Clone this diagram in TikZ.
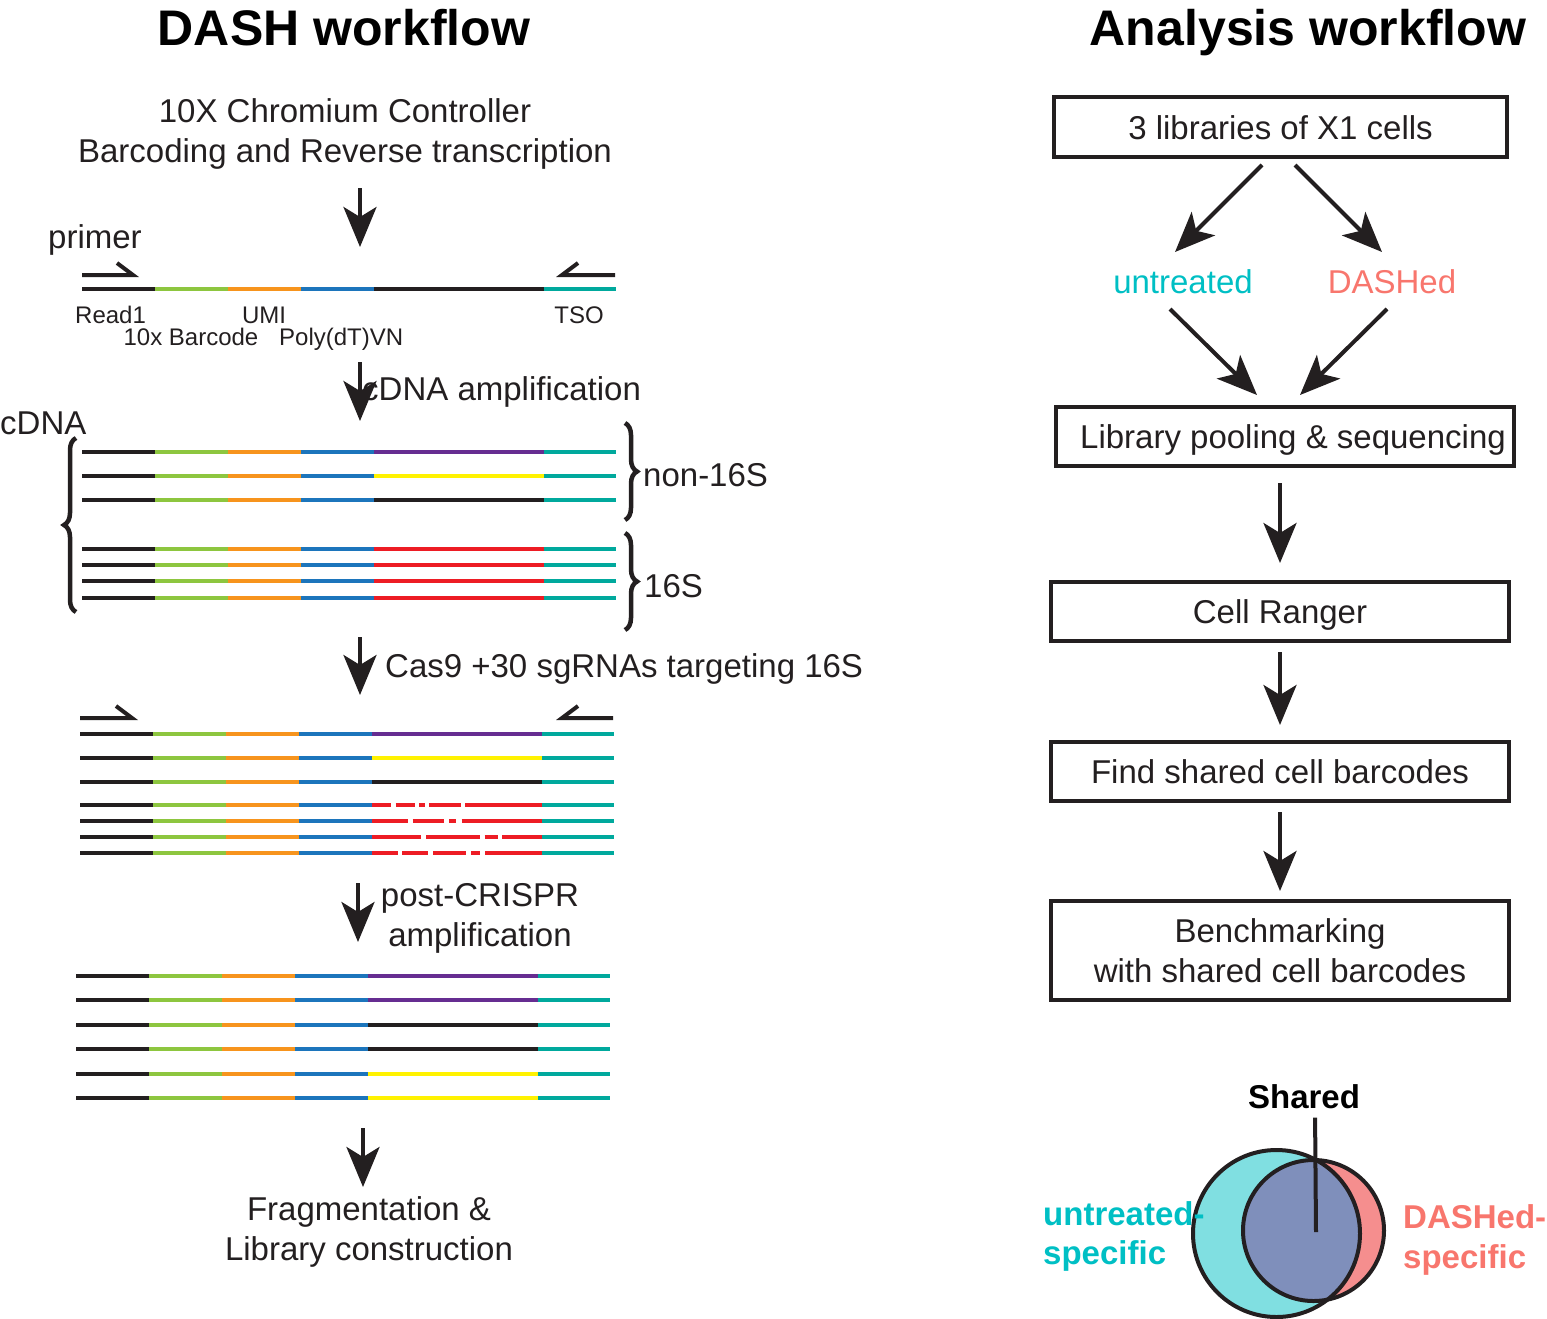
\documentclass[tikz,border=0pt]{standalone}
\usepackage{fontspec}
\setmainfont{Liberation Sans}
\usetikzlibrary{arrows.meta,decorations.pathreplacing}
\definecolor{sk}{HTML}{231F20}
\definecolor{sgreen}{HTML}{8DC63F}
\definecolor{sorange}{HTML}{F7941D}
\definecolor{sblue}{HTML}{1C75BC}
\definecolor{spurple}{HTML}{662D91}
\definecolor{syellow}{HTML}{FFF200}
\definecolor{sred}{HTML}{ED1C24}
\definecolor{steal}{HTML}{00A99D}
\definecolor{untr}{HTML}{00BFC4}
\definecolor{salm}{HTML}{F8766D}
\definecolor{venT}{HTML}{80DFE1}
\definecolor{venS}{HTML}{F58E8E}
\definecolor{venO}{HTML}{7F8FBB}
\newcommand\strandbase[2]{%
  \draw[seg,sk] (#1,#2) -- (#1+73,#2);
  \draw[seg,sgreen] (#1+73,#2) -- (#1+146,#2);
  \draw[seg,sorange] (#1+146,#2) -- (#1+219,#2);
  \draw[seg,sblue] (#1+219,#2) -- (#1+292,#2);
  \draw[seg,steal] (#1+462,#2) -- (#1+534,#2);}
\newcommand\strandfull[3]{%
  \strandbase{#1}{#2}
  \draw[seg,#3] (#1+292,#2) -- (#1+462,#2);}
\newcommand\strandcut[3]{%
  \strandbase{#1}{#2}
  \foreach \a/\b in {#3} {\draw[seg,sred] (#1+292+\a,#2) -- (#1+292+\b,#2);}}
\begin{document}
\begin{tikzpicture}[x=1pt,y=-1pt,
  seg/.style={line width=4pt},
  arr/.style={line width=4pt, draw=sk, -{Stealth[length=40pt,width=33pt,inset=10pt]}},
  primerline/.style={line width=4pt, draw=sk, miter limit=10},
  txt/.style={font=\fontsize{33}{40}\selectfont, inner sep=0pt, anchor=base, text=sk},
  small/.style={font=\fontsize{24}{29}\selectfont, inner sep=0pt, anchor=base, text=sk},
  ttl/.style={font=\fontsize{50}{60}\selectfont\bfseries, inner sep=0pt, anchor=base, text=black},
  bold/.style={font=\fontsize{33}{40}\selectfont\bfseries, inner sep=0pt, anchor=base west},
  box/.style={draw=sk, line width=4pt, inner sep=0pt, font=\fontsize{33}{40}\selectfont, text=sk, align=center},
  onebox/.style={box, text height=24pt, text depth=0pt, minimum width=458pt, minimum height=59pt},
  brc/.style={draw=sk, line width=4.5pt, decorate, decoration={brace, amplitude=12pt}}]
\useasboundingbox (0,0) rectangle (1547,1318);

% ---------------- titles
\node[ttl] (t1) at (344,45) {DASH workflow};
\node[ttl] (t2) at (1308,45) {Analysis workflow};

% ---------------- DASH workflow
\node[txt] (l1) at (345,122) {10X Chromium Controller};
\node[txt] (l2) at (345,162) {Barcoding and Reverse transcription};
\coordinate (a1s) at (360,188); \coordinate (a1e) at (360,247);
\draw[arr] (a1s) -- (a1e);

\node[txt, anchor=base west] (prim) at (48,248) {primer};
\draw[primerline] (82,275) -- (133,275) -- (117,263);
\draw[primerline] (615,275) -- (562,275) -- (578,263);
\strandfull{82}{289}{sk}
\node[small, anchor=base west] (rd1) at (75,323) {Read1};
\node[small] (umi) at (264,323) {UMI};
\node[small] (tso) at (579,323) {TSO};
\node[small] (bc) at (191,345) {10x Barcode};
\node[small, anchor=base west] (pdt) at (279,345) {Poly(dT)VN};

\coordinate (a2s) at (360,362); \coordinate (a2e) at (360,421);
\draw[arr] (a2s) -- (a2e);
\node[txt, anchor=base west] (camp) at (362,400) {cDNA amplification};

\node[txt, anchor=base west] (cdna) at (0,434) {cDNA};
\strandfull{82}{452}{spurple}
\strandfull{82}{476}{syellow}
\strandfull{82}{500}{sk}
\strandfull{82}{549}{sred}
\strandfull{82}{565}{sred}
\strandfull{82}{581}{sred}
\strandfull{82}{598}{sred}
\draw[brc] (76,612) -- (76,438);
\draw[brc] (625,423) -- (625,520);
\draw[brc] (625,533) -- (625,630);
\node[txt, anchor=base west] (n16) at (643,486) {non-16S};
\node[txt, anchor=base west] (s16) at (644,597) {16S};

\coordinate (a3s) at (360,637); \coordinate (a3e) at (360,695);
\draw[arr] (a3s) -- (a3e);
\node[txt, anchor=base west] (cas) at (385,677) {Cas9 +30 sgRNAs targeting 16S};

\draw[primerline] (80,718) -- (132,718) -- (116,706);
\draw[primerline] (613,718) -- (562,718) -- (578,706);
\strandfull{80}{734}{spurple}
\strandfull{80}{758}{syellow}
\strandfull{80}{782}{sk}
\strandcut{80}{805}{0/19, 23.7/43, 47/52.5, 57/89, 93/170}
\strandcut{80}{821}{0/36, 40.7/72, 77/84, 89.5/170}
\strandcut{80}{837}{0/49, 54/108, 112.5/126, 130/170}
\strandcut{80}{853}{0/25.5, 30/56, 61/94, 99/108, 113/170}

\coordinate (a4s) at (358,883); \coordinate (a4e) at (358,942);
\draw[arr] (a4s) -- (a4e);
\node[txt] (pc1) at (480,906) {post-CRISPR};
\node[txt] (pc2) at (480,946) {amplification};

\strandfull{76}{976}{spurple}
\strandfull{76}{1000}{spurple}
\strandfull{76}{1025}{sk}
\strandfull{76}{1049}{sk}
\strandfull{76}{1074}{syellow}
\strandfull{76}{1098}{syellow}

\coordinate (a5s) at (363,1128); \coordinate (a5e) at (363,1187);
\draw[arr] (a5s) -- (a5e);
\node[txt] (fr1) at (369,1220) {Fragmentation \&};
\node[txt] (fr2) at (369,1260) {Library construction};

% ---------------- Analysis workflow
\node[onebox, minimum width=453pt, minimum height=60pt] (b1) at (1280.5,127) {3 libraries of X1 cells};
\node[txt, text=untr] (unt) at (1183,293) {untreated};
\node[txt, text=salm] (dsh) at (1392,293) {DASHed};
\node[onebox] (b2) at (1285,436.5) {\hspace*{16pt}Library pooling \& sequencing};
\node[onebox] (b3) at (1280,611.5) {Cell Ranger};
\node[onebox] (b4) at (1280,771.5) {Find shared cell barcodes};
\node[box, minimum width=458pt, minimum height=99pt] (b5) at (1280,950.5) {Benchmarking\\with shared cell barcodes};

\coordinate (d1s) at (1262,165); \coordinate (d1e) at (1175,252);
\coordinate (d2s) at (1295,165); \coordinate (d2e) at (1382,252);
\coordinate (d3s) at (1170,309); \coordinate (d3e) at (1257,395);
\coordinate (d4s) at (1387,309); \coordinate (d4e) at (1300,395);
\draw[arr] (d1s) -- (d1e);
\draw[arr] (d2s) -- (d2e);
\draw[arr] (d3s) -- (d3e);
\draw[arr] (d4s) -- (d4e);
\draw[arr, shorten <=15pt, shorten >=17pt] (b2.south -| b3.north) -- (b3.north);
\draw[arr, shorten <=9pt, shorten >=15pt] (b3.south) -- (b4.north);
\draw[arr, shorten <=9pt, shorten >=8pt] (b4.south) -- (b5.north);

% ---------------- Venn
\fill[venT] (1276.5,1233.5) circle (83.5pt);
\fill[venS] (1313.5,1230.5) circle (70.5pt);
\begin{scope}
  \clip (1276.5,1233.5) circle (83.5pt);
  \fill[venO] (1313.5,1230.5) circle (70.5pt);
\end{scope}
\draw[sk, line width=4pt] (1276.5,1233.5) circle (83.5pt);
\draw[sk, line width=4pt] (1313.5,1230.5) circle (70.5pt);
\node[bold, anchor=base] (sh) at (1304,1108) {Shared};
\coordinate (shc) at (1316,1232);
\draw[sk, line width=4pt, shorten <=9pt] (sh.south -| 1315,0) -- (shc);
\node[bold, text=untr] (us1) at (1043,1225) {untreated-};
\node[bold, text=untr] (us2) at (1043,1264) {specific};
\node[bold, text=salm] (ds1) at (1403,1228) {DASHed-};
\node[bold, text=salm] (ds2) at (1403,1268) {specific};
\end{tikzpicture}
\end{document}
